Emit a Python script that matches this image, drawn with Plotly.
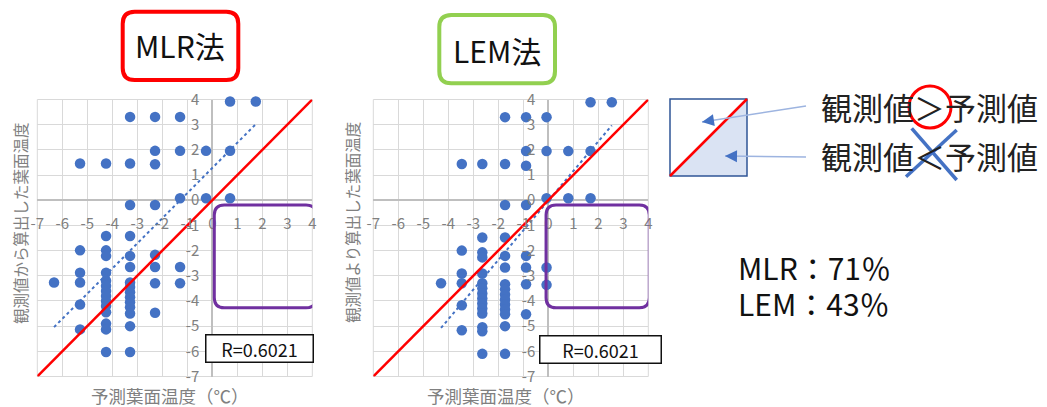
import plotly.graph_objects as go

W, H = 1047, 407
FONT = "Noto Sans CJK JP"

# ---------------- data ----------------
tick_vals = [-7, -6, -5, -4, -3, -2, -1, 0, 1, 2, 3, 4]
tick_text = ["-7", "-6", "-5", "-4", "-3", "-2", "-1", "0", "1", "2", "3", "4"]

# MLR method: predicted (x) vs observed-derived (y) leaf temperature
mlr_pred = ([-6.33]
            + [-5.29] * 6
            + [-4.25] * 15
            + [-3.29] * 15
            + [-2.29] * 8
            + [-1.29] * 5
            + [-0.25] * 2
            + [0.71] * 3
            + [1.74])
mlr_obs = ([-3.27]
           + [1.46, -1.99, -2.88, -3.27, -4.14, -5.13]
           + [1.46, -1.42, -1.99, -2.21, -2.88, -3.2, -3.4, -3.6, -3.8, -4.0, -4.2, -4.45, -4.9, -5.13, -6.03]
           + [3.31, 1.46, -0.19, -1.42, -2.21, -2.65, -3.27, -3.45, -3.65, -3.85, -4.05, -4.25, -4.5, -5.0, -6.03]
           + [3.31, 1.96, 1.43, -0.19, -2.17, -2.65, -3.3, -4.47]
           + [3.31, 1.96, 0.08, -2.65, -3.3]
           + [1.96, 0.08]
           + [3.92, 1.96, 0.08]
           + [3.92])

# LEM method
lem_pred = ([-4.29]
            + [-3.46] * 6
            + [-2.64] * 15
            + [-1.73] * 15
            + [-0.89] * 8
            + [-0.07] * 5
            + [0.8] * 2
            + [1.69] * 3
            + [2.54])
lem_obs = ([-3.3]
           + [1.44, -2.0, -2.91, -3.3, -4.17, -5.16]
           + [1.44, -1.48, -2.07, -2.27, -2.91, -3.3, -3.5, -3.7, -3.9, -4.1, -4.3, -4.5, -5.04, -5.2, -6.1]
           + [3.3, 1.44, -0.19, -1.48, -2.21, -2.67, -3.34, -3.54, -3.74, -3.94, -4.14, -4.34, -4.53, -5.0, -6.1]
           + [3.3, 1.95, 1.37, -0.19, -2.21, -2.67, -3.34, -4.53]
           + [3.3, 1.95, 0.08, -2.67, -3.36]
           + [1.95, 0.08]
           + [3.89, 1.95, 0.08]
           + [3.89])

# linear trend lines (endpoints)
mlr_trend_x = [-6.33, 1.74]
mlr_trend_y = [-5.04, 3.02]
lem_trend_x = [-4.29, 2.54]
lem_trend_y = [-5.07, 2.97]

# 1:1 line
one_x = [-7, 4]
one_y = [-7, 4]

r_text = ["R=0.6021", "R=0.6021"]
titles = ["MLR法", "LEM法"]
y_titles = ["観測値から算出した葉面温度", "観測値より算出した葉面温度"]
x_title = "予測葉面温度（℃）"
legend_lines = ["観測値＞予測値", "観測値＜予測値"]
stats_lines = ["MLR：71％", "LEM：43％"]

# ---------------- helpers ----------------
def fx(px):
    return px / W


def fy(py):
    return 1 - py / H


def rrect(x0, y0, x1, y1, rx, ry):
    return (f"M {x0+rx},{y0} L {x1-rx},{y0} Q {x1},{y0} {x1},{y0+ry} "
            f"L {x1},{y1-ry} Q {x1},{y1} {x1-rx},{y1} L {x0+rx},{y1} "
            f"Q {x0},{y1} {x0},{y1-ry} L {x0},{y0+ry} Q {x0},{y0} {x0+rx},{y0} Z")


ydom = [fy(376.5), fy(99.5)]
x1dom = [fx(37.3), fx(312.3)]
x2dom = [fx(373.3), fx(648.3)]
y_zero_pos = ydom[0] + (ydom[1] - ydom[0]) * 7 / 11
x1_zero_pos = x1dom[0] + (x1dom[1] - x1dom[0]) * 7 / 11
x2_zero_pos = x2dom[0] + (x2dom[1] - x2dom[0]) * 7 / 11

BLUE = "#4472c4"
GRID = "#d9d9d9"
TICK = "#808080"

fig = go.Figure()

for xs, ys, tx, ty, xa, ya in [
    (mlr_pred, mlr_obs, mlr_trend_x, mlr_trend_y, "x", "y"),
    (lem_pred, lem_obs, lem_trend_x, lem_trend_y, "x2", "y2"),
]:
    fig.add_trace(go.Scatter(x=xs, y=ys, mode="markers", xaxis=xa, yaxis=ya,
                             marker=dict(size=10.5, color=BLUE), showlegend=False,
                             cliponaxis=False))
    fig.add_trace(go.Scatter(x=tx, y=ty, mode="lines", xaxis=xa, yaxis=ya,
                             line=dict(color=BLUE, width=2, dash="dot"), showlegend=False))
    fig.add_trace(go.Scatter(x=one_x, y=one_y, mode="lines", xaxis=xa, yaxis=ya,
                             line=dict(color="#ff0000", width=2.5), showlegend=False))

axis_common = dict(range=[-7, 4], tickvals=tick_vals, ticktext=tick_text,
                   showgrid=True, gridcolor=GRID, gridwidth=1,
                   zeroline=True, zerolinecolor="#bfbfbf", zerolinewidth=1.5,
                   ticks="outside", ticklen=10, tickcolor="rgba(0,0,0,0)",
                   tickfont=dict(size=15, color=TICK, family=FONT),
                   ticklabeloverflow="allow",
                   showline=False, anchor="free", fixedrange=True)

fig.update_layout(
    width=W, height=H,
    margin=dict(l=0, r=0, t=0, b=0, autoexpand=False),
    paper_bgcolor="white", plot_bgcolor="white",
    font=dict(family=FONT),
    xaxis=dict(domain=x1dom, position=y_zero_pos, **axis_common),
    yaxis=dict(domain=ydom, position=x1_zero_pos, **axis_common),
    xaxis2=dict(domain=x2dom, position=y_zero_pos, **axis_common),
    yaxis2=dict(domain=ydom, position=x2_zero_pos, **axis_common),
)

shapes = []
annotations = []

# plot borders + purple regions + R boxes
for xa, ya, px0, px1, rx_c, ry_c, rw in [
    ("x", "y", 0.08, 4.15, 1.87, -5.88, 104),
    ("x2", "y2", -0.09, 4.04, 2.1, -5.92, 118),
]:
    shapes.append(dict(type="rect", xref=f"{xa} domain", yref=f"{ya} domain",
                       x0=0, x1=1, y0=0, y1=1, line=dict(color=GRID, width=1), layer="below"))
    shapes.append(dict(type="path", xref=xa, yref=ya,
                       path=rrect(px0, -4.27, px1, -0.19, 0.4, 0.4),
                       line=dict(color="#7030a0", width=3)))
    annotations.append(dict(xref=xa, yref=ya, x=rx_c, y=ry_c, text="R=0.6021",
                            showarrow=False, font=dict(size=18, color="#111", family=FONT),
                            bgcolor="white", bordercolor="#111", borderwidth=1.5,
                            width=rw, height=24, borderpad=1))

# method title boxes
for (bx0, by0, bx1, by1, col), title, (cx, cy) in zip(
        [(122.7, 11.7, 238.3, 80, "#ff0000"), (439.3, 15, 555, 83.3, "#92d050")],
        titles, [(180, 45), (497, 50)]):
    shapes.append(dict(type="path", xref="paper", yref="paper",
                       path=rrect(fx(bx0), fy(by1), fx(bx1), fy(by0), 12 / W, 12 / H),
                       line=dict(color=col, width=4)))
    annotations.append(dict(xref="paper", yref="paper", x=fx(cx), y=fy(cy), text=title,
                            showarrow=False, font=dict(size=30, color="#111", family=FONT),
                            xanchor="center", yanchor="middle"))

# axis titles
for cx, ytxt in zip([20, 352], y_titles):
    annotations.append(dict(xref="paper", yref="paper", x=fx(cx), y=fy(223), text=ytxt,
                            textangle=-90, showarrow=False, xanchor="center", yanchor="middle",
                            font=dict(size=15.5, color=TICK, family=FONT)))
for cx in [170, 506]:
    annotations.append(dict(xref="paper", yref="paper", x=fx(cx), y=fy(395), text=x_title,
                            showarrow=False, xanchor="center", yanchor="middle",
                            font=dict(size=17.5, color=TICK, family=FONT)))

# legend diagram
shapes.append(dict(type="path", xref="paper", yref="paper",
                   path=f"M {fx(670)},{fy(176)} L {fx(747)},{fy(99)} L {fx(747)},{fy(176)} Z",
                   fillcolor="#dae3f3", line=dict(width=0)))
shapes.append(dict(type="rect", xref="paper", yref="paper",
                   x0=fx(670), x1=fx(747), y0=fy(176), y1=fy(99),
                   line=dict(color="#2f5597", width=1.5)))
shapes.append(dict(type="line", xref="paper", yref="paper",
                   x0=fx(670), y0=fy(176), x1=fx(747), y1=fy(99),
                   line=dict(color="#ff0000", width=2.5)))
for (hx, hy, tx_, ty_) in [(702, 122, 806, 106), (725, 156, 806, 157)]:
    shapes.append(dict(type="line", xref="paper", yref="paper",
                       x0=fx(tx_), y0=fy(ty_), x1=fx(hx), y1=fy(hy),
                       line=dict(color="#9db4e0", width=1.5)))
    dx, dy = tx_ - hx, ty_ - hy
    d = (dx * dx + dy * dy) ** 0.5
    annotations.append(dict(xref="paper", yref="paper", x=fx(hx), y=fy(hy), text="",
                            showarrow=True, ax=dx / d * 12, ay=dy / d * 12,
                            arrowhead=2, arrowsize=1.6, arrowwidth=1.5, arrowcolor=BLUE))

for txt, cy in zip(legend_lines, [106.7, 155]):
    annotations.append(dict(xref="paper", yref="paper", x=fx(819), y=fy(cy), text=txt,
                            xanchor="left", yanchor="middle", showarrow=False,
                            font=dict(size=31, color="#222", family=FONT)))

# red circle around ">"
shapes.append(dict(type="circle", xref="paper", yref="paper",
                   x0=fx(909), x1=fx(951), y0=fy(128), y1=fy(86),
                   line=dict(color="#ff0000", width=3)))
# blue cross over "<"
shapes.append(dict(type="line", xref="paper", yref="paper",
                   x0=fx(911.7), y0=fy(128.3), x1=fx(956.7), y1=fy(180),
                   line=dict(color=BLUE, width=3.5)))
shapes.append(dict(type="line", xref="paper", yref="paper",
                   x0=fx(956.7), y0=fy(130), x1=fx(906), y1=fy(176.7),
                   line=dict(color=BLUE, width=3.5)))

for txt, cy in zip(stats_lines, [267.3, 303.3]):
    annotations.append(dict(xref="paper", yref="paper", x=fx(736), y=fy(cy), text=txt,
                            xanchor="left", yanchor="middle", showarrow=False,
                            font=dict(size=30, color="#111", family=FONT)))

fig.update_layout(shapes=shapes, annotations=annotations)
fig.write_html("out.html", config={"displayModeBar": False},
               post_script="document.body.style.margin='0';document.body.style.overflow='hidden';")
